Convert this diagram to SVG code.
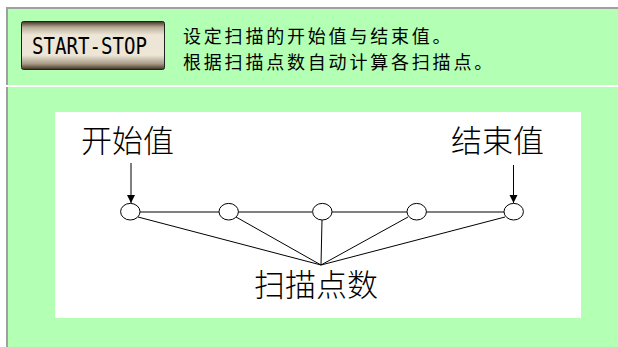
<svg xmlns="http://www.w3.org/2000/svg" width="618" height="347" viewBox="0 0 618 347">
<style>
.panel{fill:#b3ffb3}
.border{fill:#a0a0a0}
.desc{font-family:"Noto Sans CJK SC","Noto Sans",sans-serif;font-size:18px;fill:#000;letter-spacing:2.8px}
.lbl{font-family:"Noto Sans CJK SC","Noto Sans",sans-serif;font-size:31px;font-weight:300;fill:#000}
.btntext{font-family:"DejaVu Sans Mono",monospace;font-size:23px;fill:#000}
.node{fill:#fff;stroke:#000;stroke-width:1}
.conn{stroke:#000;stroke-width:1;fill:none}
</style>
<defs>
<linearGradient id="btnGrad" x1="0" y1="0" x2="0" y2="1">
<stop offset="0" stop-color="#3e3020"/>
<stop offset="0.12" stop-color="#b8ac98"/>
<stop offset="0.28" stop-color="#ede6d6"/>
<stop offset="0.7" stop-color="#ede6d6"/>
<stop offset="0.88" stop-color="#a89c88"/>
<stop offset="1" stop-color="#3e3020"/>
</linearGradient>
<marker id="arrow" viewBox="0 0 10 10" refX="10" refY="5" markerWidth="8" markerHeight="10" markerUnits="userSpaceOnUse" orient="auto">
<path d="M0,0 L10,5 L0,10 Z" fill="#000"/>
</marker>
</defs>
<rect x="0" y="0" width="618" height="347" fill="#fff"/>
<g id="top-panel">
<rect class="panel" x="8" y="9" width="610" height="76"/>
<rect class="border" x="6" y="7" width="612" height="2"/>
<rect class="border" x="6" y="7" width="2" height="78"/>
</g>
<g id="bottom-panel">
<rect class="panel" x="8" y="87" width="610" height="260"/>
<rect class="border" x="6" y="87" width="2" height="260"/>
<rect x="55" y="112" width="526" height="206" fill="#fff"/>
</g>
<g id="button">
<rect x="21.5" y="21.5" width="143" height="48" rx="2" fill="url(#btnGrad)" stroke="#222" stroke-width="1"/>
<text class="btntext" x="32" y="54" textLength="115" lengthAdjust="spacingAndGlyphs">START-STOP</text>
</g>
<g id="description">
<text class="desc" x="183" y="43">设定扫描的开始值与结束值。</text>
<text class="desc" x="183" y="69">根据扫描点数自动计算各扫描点。</text>
</g>
<g id="connectors">
<line class="conn" x1="140" y1="212" x2="219" y2="212"/>
<line class="conn" x1="238" y1="212" x2="312" y2="212"/>
<line class="conn" x1="332" y1="212" x2="407" y2="212"/>
<line class="conn" x1="426" y1="212" x2="504" y2="212"/>
<line class="conn" x1="138" y1="217" x2="321" y2="265"/>
<line class="conn" x1="236" y1="217" x2="321" y2="265"/>
<line class="conn" x1="322" y1="220" x2="321" y2="265"/>
<line class="conn" x1="408" y1="217" x2="321" y2="265"/>
<line class="conn" x1="505" y1="217" x2="321" y2="265"/>
<line class="conn" x1="131" y1="163" x2="131" y2="203" marker-end="url(#arrow)"/>
<line class="conn" x1="513.5" y1="165" x2="513.5" y2="203" marker-end="url(#arrow)"/>
</g>
<g id="n1"><ellipse class="node" cx="130.3" cy="211.7" rx="9.7" ry="8.3"/></g>
<g id="n2"><ellipse class="node" cx="228.7" cy="211.7" rx="9.7" ry="8.3"/></g>
<g id="n3"><ellipse class="node" cx="322.3" cy="211.7" rx="9.7" ry="8.3"/></g>
<g id="n4"><ellipse class="node" cx="416.7" cy="211.7" rx="9.7" ry="8.3"/></g>
<g id="n5"><ellipse class="node" cx="513.7" cy="211.7" rx="9.7" ry="8.3"/></g>
<g id="start-label"><text class="lbl" x="81" y="152">开始值</text></g>
<g id="end-label"><text class="lbl" x="451" y="152">结束值</text></g>
<g id="points-label"><text class="lbl" x="254" y="296">扫描点数</text></g>
</svg>
